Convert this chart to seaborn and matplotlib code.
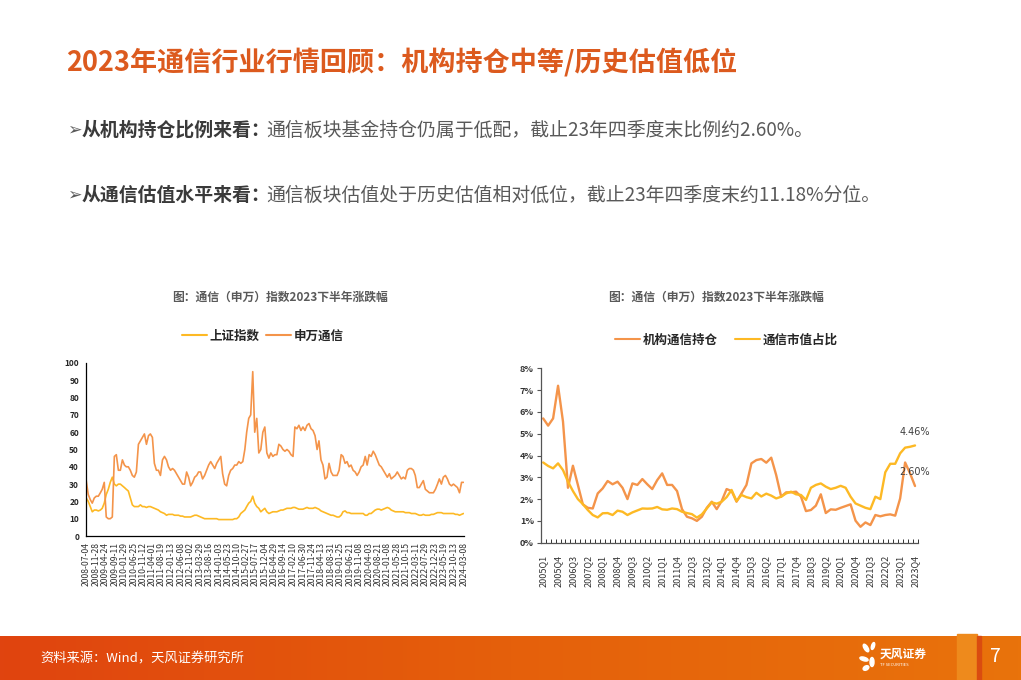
import numpy as np
import pandas as pd
import seaborn as sns
import matplotlib.pyplot as plt
from matplotlib.lines import Line2D
from matplotlib.patches import Rectangle, Ellipse
from matplotlib.colors import LinearSegmentedColormap

sns.set_theme(style="white")
plt.rcParams['font.family'] = ['Noto Sans CJK SC', 'DejaVu Sans']
plt.rcParams['axes.unicode_minus'] = False

ORANGE = "#F4944A"
YELLOW = "#FDB924"

# left chart: monthly readings, 2008-07 .. 2024-03
sw_telecom = (
    [32, 24, 21, 19, 22, 23]
    + [23, 25, 27, 31, 11, 10, 10, 11, 46, 47, 38, 38]
    + [44, 41, 40, 40, 38, 35, 34, 37, 53, 55, 57, 59]
    + [53, 58, 59, 57, 42, 38, 38, 35, 44, 46, 44, 40]
    + [38, 39, 38, 36, 34, 32, 30, 30, 37, 34, 29, 31]
    + [34, 35, 37, 37, 33, 35, 38, 41, 43, 41, 39, 42]
    + [44, 46, 36, 30, 29, 35, 38, 39, 41, 41, 43, 42]
    + [43, 50, 60, 68, 70, 95, 60, 68, 48, 50, 60, 63]
    + [48, 45, 48, 46, 47, 47, 53, 52, 50, 49, 50, 49]
    + [47, 46, 63, 62, 64, 61, 63, 61, 64, 65, 62, 61]
    + [58, 50, 55, 44, 41, 33, 34, 42, 37, 35, 35, 35]
    + [38, 47, 46, 42, 43, 40, 41, 38, 37, 35, 37, 40]
    + [41, 46, 41, 47, 46, 49, 47, 44, 41, 40, 38, 36]
    + [34, 36, 33, 34, 35, 37, 35, 33, 34, 33, 38, 39]
    + [39, 38, 35, 28, 28, 30, 32, 27, 26, 25, 25, 25]
    + [27, 30, 33, 30, 34, 35, 33, 30, 29, 30, 29, 28]
    + [25, 31, 31]
)
sz_index = (
    [22, 20, 17, 14, 15, 15]
    + [14.5, 15, 16, 19, 24, 27, 31, 34, 30, 29, 30, 30]
    + [29, 28, 27, 26, 22, 18, 17, 17, 17, 18, 17, 17]
    + [16.5, 17, 17, 16.5, 16, 15.5, 15, 14, 13.5, 13, 12, 12.5]
    + [12.5, 12.5, 12, 12, 12, 11.5, 11.5, 11, 11, 11, 11, 11.5]
    + [12, 12, 11.5, 11, 10.5, 10, 10, 10, 10, 10, 10, 10]
    + [9.5, 9.5, 9.5, 9.5, 9.5, 9.5, 9.5, 9.5, 10, 10, 11, 13]
    + [14, 15, 17, 19, 20, 23, 19, 17, 16, 14, 15, 16]
    + [14, 13, 13.5, 14, 14, 14, 14.5, 15, 15, 15.5, 16, 16]
    + [16, 16.5, 16.5, 16, 15.5, 15.5, 15.5, 16, 16.5, 16, 16, 16]
    + [16.5, 16, 15.5, 14.5, 14, 13.5, 13, 12.5, 12, 12, 11.5, 11]
    + [11, 12, 14, 14.5, 13.5, 13.5, 13, 13, 13, 13, 13, 13]
    + [13, 12, 12, 13, 13, 14, 15, 15.5, 15.5, 15, 15.5, 16]
    + [16.5, 16, 15, 14.5, 14, 14, 14, 14, 14, 13.5, 13.5, 13.5]
    + [13, 13, 13, 12.5, 12, 12, 12.5, 12, 12, 12, 12.5, 12.5]
    + [13, 13.5, 13.5, 13.5, 13, 13, 13, 13, 13, 13, 12.5, 12.5]
    + [12, 12.5, 13]
)
left_ticks = [
    "2008-07-04", "2008-11-28", "2009-04-24", "2009-09-11", "2010-01-29",
    "2010-06-25", "2010-11-12", "2011-04-01", "2011-08-19", "2012-01-13",
    "2012-06-08", "2012-11-02", "2013-03-29", "2013-08-16", "2014-01-03",
    "2014-05-23", "2014-10-10", "2015-02-27", "2015-07-17", "2015-12-04",
    "2016-04-29", "2016-09-14", "2017-02-10", "2017-06-30", "2017-11-24",
    "2018-04-13", "2018-08-31", "2019-01-25", "2019-06-21", "2019-11-08",
    "2020-04-03", "2020-08-21", "2021-01-08", "2021-05-28", "2021-10-15",
    "2022-03-11", "2022-07-29", "2022-12-23", "2023-05-19", "2023-10-13",
    "2024-03-08",
]

# right chart: quarterly 2005Q1 .. 2023Q4 (%)
fund_hold = [
    5.70, 5.37, 5.70, 7.20, 5.55, 2.52, 3.53, 2.65, 1.76, 1.60,
    1.57, 2.26, 2.49, 2.83, 2.68, 2.80, 2.52, 2.00, 2.72, 2.65,
    2.92, 2.68, 2.46, 2.87, 3.18, 2.65, 2.65, 2.37, 1.54, 1.19,
    1.12, 1.00, 1.19, 1.60, 1.88, 1.54, 1.91, 2.46, 2.37, 1.88,
    2.26, 2.65, 3.64, 3.79, 3.84, 3.67, 3.90, 3.10, 2.11, 2.31,
    2.31, 2.34, 2.11, 1.45, 1.50, 1.70, 2.22, 1.36, 1.53, 1.51,
    1.60, 1.68, 1.76, 1.01, 0.73, 0.93, 0.81, 1.27, 1.21, 1.27,
    1.30, 1.24, 2.03, 3.68, 3.18, 2.60,
]
mkt_share = [
    3.68, 3.52, 3.41, 3.64, 3.33, 2.80, 2.37, 2.00, 1.77, 1.50,
    1.27, 1.16, 1.35, 1.36, 1.27, 1.47, 1.42, 1.27, 1.39, 1.48,
    1.57, 1.56, 1.57, 1.64, 1.53, 1.51, 1.57, 1.54, 1.42, 1.36,
    1.31, 1.15, 1.30, 1.57, 1.85, 1.79, 1.88, 2.09, 2.42, 1.91,
    2.19, 2.09, 2.03, 2.29, 2.12, 2.25, 2.16, 2.03, 2.11, 2.26,
    2.34, 2.22, 2.19, 1.96, 2.52, 2.65, 2.72, 2.57, 2.46, 2.52,
    2.61, 2.52, 2.11, 1.80, 1.70, 1.60, 1.54, 2.11, 2.00, 3.23,
    3.62, 3.62, 4.10, 4.36, 4.40, 4.46,
]
quarters = [f"{y}Q{q}" for y in range(2005, 2024) for q in range(1, 5)]

W, H = 1021, 680
fig = plt.figure(figsize=(W / 100, H / 100), dpi=100)
fig.patch.set_facecolor("white")


def fx(px):
    return px / W


def fy(py):
    return 1 - py / H


# background layer for page text and footer
bg = fig.add_axes([0, 0, 1, 1])
bg.axis("off")
grad = np.linspace(0, 1, 256).reshape(1, -1)
cmap = LinearSegmentedColormap.from_list("band", ["#E0440F", "#E5600B", "#E9730B"])
bg.imshow(grad, extent=[0, 1, 0, fy(636)], aspect="auto", cmap=cmap, zorder=0)
bg.add_patch(Rectangle((fx(957), 0), fx(20), fy(634), color="#EE8A1C", zorder=1))
bg.add_patch(Rectangle((fx(977), 0), fx(4), fy(636), color="#DA4C10", zorder=1))
bg.set_xlim(0, 1)
bg.set_ylim(0, 1)

# title and bullets
bg.text(fx(66), fy(62), "2023年通信行业行情回顾：机构持仓中等/历史估值低位",
        fontsize=19.5, fontweight="bold", color="#DC5A1E", va="center", ha="left")


def bullet_line(py, bold_txt, plain_txt):
    bg.text(fx(67), fy(py), "➢", family=["DejaVu Sans"], fontsize=12.5,
            color="#595959", va="center", ha="left")
    t = bg.text(fx(82), fy(py), bold_txt, fontsize=13.6, fontweight="bold",
                color="#3A3A3A", va="center", ha="left")
    bg.annotate(plain_txt, xy=(1, 0.5), xycoords=t, xytext=(-3, 0),
                textcoords="offset points", fontsize=13.6,
                color="#595959", va="center", ha="left")


bullet_line(130, "从机构持仓比例来看：", "通信板块基金持仓仍属于低配，截止23年四季度末比例约2.60%。")
bullet_line(195, "从通信估值水平来看：", "通信板块估值处于历史估值相对低位，截止23年四季度末约11.18%分位。")

# footer
bg.text(fx(40), fy(659), "资料来源：Wind，天风证券研究所", fontsize=9.5,
        color="white", va="center", ha="left")
for (ex, ey, w, h, a) in [(866, 648, 4, 8, 20), (873, 646, 3, 7, -10),
                          (864, 659, 5, 6, 60), (872, 662, 4, 9, 0),
                          (866, 668, 5, 5, -30)]:
    bg.add_patch(Ellipse((fx(ex), fy(ey)), fx(w), h / H, angle=a,
                         color="white", zorder=2))
bg.text(fx(880), fy(654), "天风证券", fontsize=8.5, fontweight="bold",
        color="white", va="center", ha="left")
bg.text(fx(880), fy(665), "TF SECURITIES", fontsize=3, color="white",
        va="center", ha="left")
bg.text(fx(990), fy(657), "7", fontsize=14, color="white", va="center", ha="left")

# ---------------- left chart ----------------
dates = pd.date_range("2008-07-04", periods=len(sw_telecom), freq=pd.DateOffset(months=1))
left_df = pd.DataFrame({"date": dates, "上证指数": sz_index, "申万通信": sw_telecom})
left_long = left_df.melt("date", var_name="series", value_name="value")

axL = fig.add_axes([fx(86), fy(536), fx(464 - 86), (536 - 363) / H])
axL.set_facecolor("none")
sns.lineplot(data=left_long, x="date", y="value", hue="series",
             palette={"上证指数": YELLOW, "申万通信": ORANGE},
             linewidth=1.2, legend=False, ax=axL)
axL.set_xlim(pd.Timestamp("2008-07-01"), pd.Timestamp("2024-03-12"))
axL.set_ylim(0, 100)
axL.set_yticks(range(0, 101, 10))
axL.set_yticklabels([str(v) for v in range(0, 101, 10)], fontsize=6, fontweight="bold")
axL.set_xticks(pd.to_datetime(left_ticks))
axL.set_xticklabels(left_ticks, rotation=90, fontsize=6.2, color="#333333")
axL.tick_params(axis="x", length=0, pad=4)
axL.tick_params(axis="y", length=3, width=0.8, color="black", pad=2, direction="out")
axL.set_xlabel("")
axL.set_ylabel("")
for s in ["top", "right"]:
    axL.spines[s].set_visible(False)
for s in ["left", "bottom"]:
    axL.spines[s].set_color("black")
    axL.spines[s].set_linewidth(0.9)

fig.text(fx(280), fy(297), "图：通信（申万）指数2023下半年涨跌幅", fontsize=8.5,
         fontweight="bold", color="#595959", ha="center", va="center")
axL.legend([Line2D([], [], color=YELLOW, lw=1.5), Line2D([], [], color=ORANGE, lw=1.5)],
           ["上证指数", "申万通信"], loc="center", bbox_to_anchor=(fx(263), fy(336)),
           bbox_transform=fig.transFigure, ncol=2, frameon=False, handlelength=2.0,
           handletextpad=0.2, columnspacing=0.5,
           prop={"size": 9, "weight": "bold"})

# ---------------- right chart ----------------
right_df = pd.DataFrame({"q": np.arange(len(quarters)), "机构通信持仓": fund_hold,
                         "通信市值占比": mkt_share})
right_long = right_df.melt("q", var_name="series", value_name="value")

axR = fig.add_axes([fx(540.7), fy(542.7), fx(918 - 540.7), (542.7 - 368.3) / H])
axR.set_facecolor("none")
sns.lineplot(data=right_long, x="q", y="value", hue="series",
             palette={"机构通信持仓": ORANGE, "通信市值占比": YELLOW},
             linewidth=1.7, legend=False, ax=axR)
axR.set_xlim(-0.5, 75.6)
axR.set_ylim(0, 8)
axR.set_yticks(range(0, 9))
axR.set_yticklabels([f"{v}%" for v in range(0, 9)], fontsize=6.5, fontweight="bold",
                    color="#333333")
axR.set_xticks(range(0, len(quarters), 3))
axR.set_xticklabels(quarters[::3], rotation=90, fontsize=6.5, color="#333333")
axR.set_xticks(np.arange(-0.5, len(quarters)), minor=True)
axR.tick_params(axis="x", which="major", length=0, pad=9)
axR.tick_params(axis="x", which="minor", length=3, width=0.7, direction="in",
                color="#333333", bottom=True)
axR.tick_params(axis="y", length=3, width=0.8, color="#555555", pad=2,
                direction="out", left=True)
axR.set_xlabel("")
axR.set_ylabel("")
for s in ["top", "right"]:
    axR.spines[s].set_visible(False)
for s in ["left", "bottom"]:
    axR.spines[s].set_color("#555555")
    axR.spines[s].set_linewidth(0.9)

last = len(quarters) - 1
axR.annotate(f"{mkt_share[-1]:.2f}%", xy=(last, mkt_share[-1]), xytext=(0, 10),
             textcoords="offset points", ha="center", va="center",
             fontsize=7, color="#404040", family=["DejaVu Sans"])
axR.annotate(f"{fund_hold[-1]:.2f}%", xy=(last, fund_hold[-1]), xytext=(0, 10),
             textcoords="offset points", ha="center", va="center",
             fontsize=7, color="#404040", family=["DejaVu Sans"])

fig.text(fx(716), fy(297), "图：通信（申万）指数2023下半年涨跌幅", fontsize=8.5,
         fontweight="bold", color="#595959", ha="center", va="center")
axR.legend([Line2D([], [], color=ORANGE, lw=1.5), Line2D([], [], color=YELLOW, lw=1.5)],
           ["机构通信持仓", "通信市值占比"], loc="center", bbox_to_anchor=(fx(726), fy(340)),
           bbox_transform=fig.transFigure, ncol=2, frameon=False, handlelength=2.0,
           handletextpad=0.2, columnspacing=1.4,
           prop={"size": 9, "weight": "bold"})

fig.savefig("out.png", dpi=100)
